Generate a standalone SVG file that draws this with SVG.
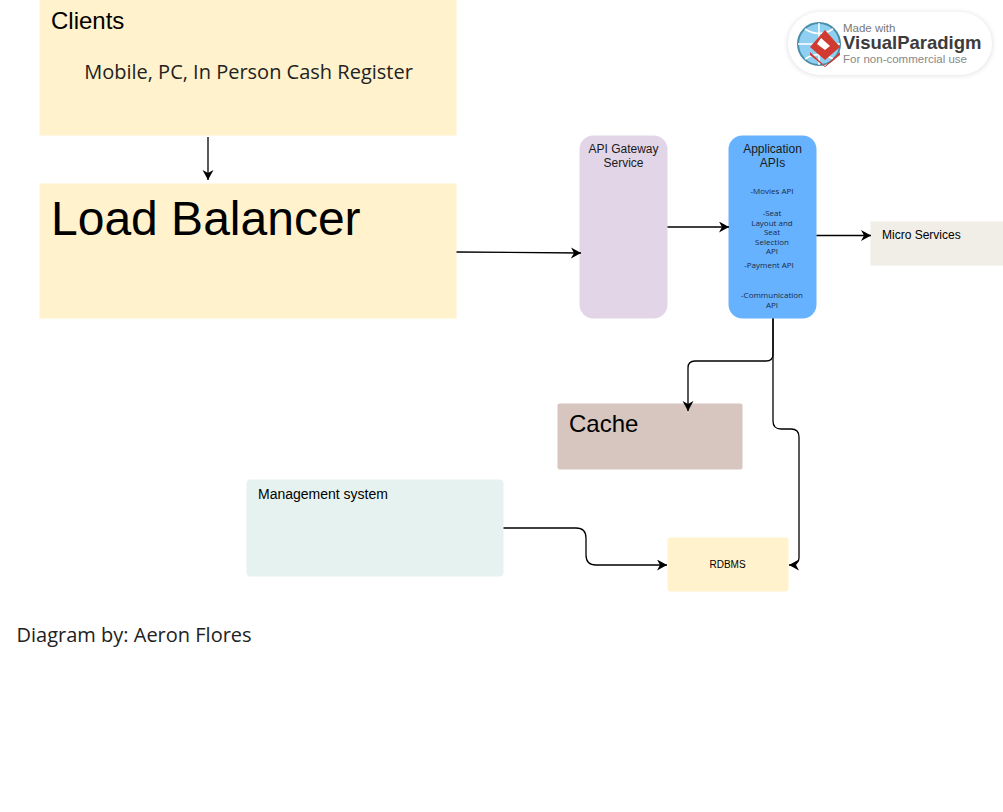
<svg xmlns="http://www.w3.org/2000/svg" width="1003" height="812" viewBox="0 0 1003 812">
<style>
.a{font-family:"Liberation Sans",Arial,sans-serif;fill:#000}
.o{font-family:"Open Sans","Noto Sans",sans-serif;fill:#222}
.s{font-size:12px;text-anchor:middle;fill:#1a1a1a}
.t{font-size:8px;text-anchor:middle;fill:#1b2a44}
.c{fill:none;stroke:#000;stroke-width:1.3}
</style>
<defs>
<marker id="arr" markerUnits="userSpaceOnUse" markerWidth="12" markerHeight="12" refX="10" refY="5.500" orient="auto"><path d="M0 0L10 5.500L0 11L3 5.500Z" fill="#000"/></marker>
<filter id="blur" x="-10%" y="-30%" width="120%" height="160%"><feGaussianBlur stdDeviation="2.500"/></filter>
</defs>
<rect width="1003" height="812" fill="#fff"/>
<g id="clients"><rect x="39.500" y="0" width="417" height="135.500" fill="#fff2cc"/><text class="a" x="51" y="29" font-size="24">Clients</text><text class="o" x="248.500" y="79" font-size="20" text-anchor="middle">Mobile, PC, In Person Cash Register</text></g>
<g id="load-balancer"><rect x="39.500" y="183.500" width="417" height="135" fill="#fff2cc"/><text class="a" x="51" y="235" font-size="48">Load Balancer</text></g>
<g id="api-gateway"><rect x="579.500" y="135.500" width="88" height="183" rx="14" fill="#e1d5e7"/><text class="a s" x="623.500" y="153">API Gateway</text><text class="a s" x="623.500" y="167">Service</text></g>
<g id="application-apis"><rect x="728.500" y="135.500" width="88" height="183" rx="14" fill="#66b2ff"/><text class="a s" x="772.500" y="153">Application</text><text class="a s" x="772.500" y="167">APIs</text>
<g><text class="o t" x="772" y="194">-Movies API</text><text class="o t" x="772" y="216">-Seat</text><text class="o t" x="772" y="226">Layout and</text><text class="o t" x="772" y="235">Seat</text><text class="o t" x="772" y="245">Selection</text><text class="o t" x="772" y="254">API</text><text class="o t" x="769" y="268">-Payment API</text><text class="o t" x="772" y="298">-Communication</text><text class="o t" x="772" y="308">API</text></g></g>
<g id="micro-services"><rect x="870.500" y="221.500" width="132.500" height="44" fill="#f0eee6"/><text class="a" x="882" y="239" font-size="12">Micro Services</text></g>
<g id="cache"><rect x="557.500" y="403.500" width="185" height="66" rx="2" fill="#d7c6bf"/><text class="a" x="569" y="432" font-size="24">Cache</text></g>
<g id="management-system"><rect x="246.500" y="479.500" width="257" height="97" rx="4" fill="#e6f2ef"/><text class="a" x="258" y="499" font-size="14">Management system</text></g>
<g id="rdbms"><rect x="667.500" y="537.500" width="121" height="54" rx="3" fill="#fff2cc"/><text class="a" x="727.500" y="568" font-size="10" text-anchor="middle">RDBMS</text></g>
<g id="connectors">
<path class="c" marker-end="url(#arr)" d="M208 137V180"/>
<path class="c" marker-end="url(#arr)" d="M456.500 252L581 253"/>
<path class="c" marker-end="url(#arr)" d="M667.500 227H729"/>
<path class="c" marker-end="url(#arr)" d="M816.500 235.500H871"/>
<path class="c" marker-end="url(#arr)" d="M773 318.500V354Q773 361 766 361H695Q688 361 688 368V411"/>
<path class="c" marker-end="url(#arr)" d="M773 318.500V421Q773 429 781 429H791Q799 429 799 437V558Q799 565 789 565"/>
<path class="c" marker-end="url(#arr)" d="M503.500 528H576Q586 528 586 538V555Q586 565 596 565H667"/>
</g>
<text class="o" id="byline" x="16.500" y="642" font-size="20">Diagram by: Aeron Flores</text>
<g id="logo">
<rect x="787" y="12" width="206" height="64" rx="32" fill="#000" opacity=".1" filter="url(#blur)"/>
<rect x="788" y="12" width="204" height="63" rx="31.500" fill="#fff"/>
<circle cx="819" cy="44" r="21" fill="#8fd0f2" stroke="#4a8ea8" stroke-width="2"/>
<path d="M798 44H840M819 23V65M805 29Q819 38 833 29M805 59Q819 50 833 59" fill="none" stroke="#fff" stroke-width="1.500"/>
<path d="M825 30L840 47L825 60L810 47Z" fill="#d03a30"/><path d="M810 52L825 66L840 52L840 55L825 67L810 55Z" fill="#d03a30"/><path d="M821 38L830 46L825 50L817 44Z" fill="#fff"/>
<text class="a" x="843" y="32" font-size="11.500" style="fill:#777">Made with</text>
<text class="a" x="843" y="49" font-size="18.500" font-weight="700" style="fill:#3c3c3c">VisualParadigm</text>
<text class="a" x="843" y="63" font-size="11.500" style="fill:#888">For non-commercial use</text>
</g>
</svg>
